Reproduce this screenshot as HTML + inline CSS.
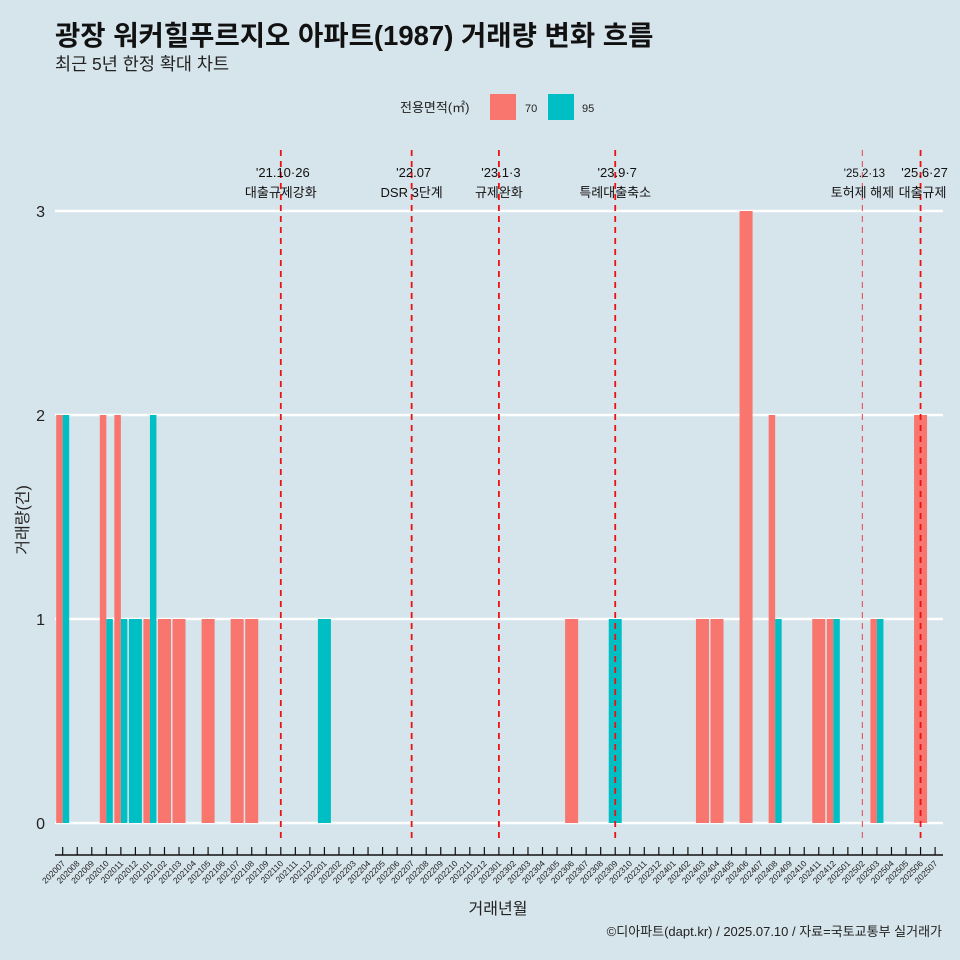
<!DOCTYPE html>
<html><head><meta charset="utf-8"><style>
body{margin:0;background:#d6e4eb;}
svg{display:block;font-family:"Liberation Sans","Noto Sans CJK KR",sans-serif;}
</style></head><body>
<svg id="c" width="960" height="960" xmlns="http://www.w3.org/2000/svg">
<rect width="960" height="960" fill="#d6e4eb"/>
<text x="55" y="45" font-size="27.5" font-weight="bold" fill="#111">광장 워커힐푸르지오 아파트(1987) 거래량 변화 흐름</text>
<text x="55" y="70" font-size="17.5" fill="#222">최근 5년 한정 확대 차트</text>
<g>
<text x="400" y="112" font-size="13" fill="#222">전용면적(㎡)</text>
<rect x="490" y="94" width="26" height="26" fill="#f8766d"/>
<text x="525" y="112" font-size="11" fill="#222">70</text>
<rect x="548" y="94" width="26" height="26" fill="#00bfc4"/>
<text x="582" y="112" font-size="11" fill="#222">95</text>
</g>
<g id="grid"></g><g id="bars"></g><g id="events"></g><g id="xaxis"></g>
<text x="28" y="520" font-size="16" fill="#222" text-anchor="middle" transform="rotate(-90 28 520)">거래량(건)</text>
<text x="498" y="914" font-size="16" fill="#222" text-anchor="middle">거래년월</text>
<text x="942" y="936" font-size="13" fill="#222" text-anchor="end">©디아파트(dapt.kr) / 2025.07.10 / 자료=국토교통부 실거래가</text>
</svg>
<script>
const months=[];for(let y=2020;y<=2025;y++)for(let m=1;m<=12;m++){const k=y*100+m;if(k>=202007&&k<=202507)months.push(String(k));}
const series70={"202007":2,"202010":2,"202011":2,"202101":1,"202102":1,"202103":1,"202105":1,"202107":1,"202108":1,"202306":1,"202403":1,"202404":1,"202406":3,"202408":2,"202411":1,"202412":1,"202503":1,"202506":2};
const series95={"202007":2,"202010":1,"202011":1,"202012":1,"202101":2,"202201":1,"202309":1,"202408":1,"202412":1,"202503":1};
const yTicks=[0,1,2,3];
const eventMonths=["202110","202207","202301","202309","202502","202506"];
const eventDates=["'21.10·26","'22.07","'23.1·3","'23.9·7","'25.2·13","'25.6·27"];
const eventLabels=["대출규제강화","DSR 3단계","규제완화","특례대출축소","토허제 해제","대출규제"];
const NS="http://www.w3.org/2000/svg";
const X0=62.7,DX=14.54,Y0=823,DY=204;
const xs=i=>X0+i*DX, ys=v=>Y0-v*DY;
function mk(t,a,p){const e=document.createElementNS(NS,t);for(const k in a)e.setAttribute(k,a[k]);p.appendChild(e);return e;}
const grid=document.getElementById('grid'),bars=document.getElementById('bars'),ev=document.getElementById('events'),xa=document.getElementById('xaxis');
yTicks.forEach(v=>{
 const l=mk('line',{x1:55,x2:943,y1:ys(v),y2:ys(v),stroke:'#fff','stroke-width':2.5},grid);
 
 
 const t=mk('text',{x:45,y:ys(v)+6,'font-size':16,'text-anchor':'end',fill:'#222'},grid);t.textContent=v;
 
 
});
const W=13;
months.forEach((m,i)=>{
 const a=series70[m]||0,b=series95[m]||0,cx=xs(i);
 if(a&&b){
  const r1=mk('rect',{x:cx-W/2,y:ys(a),width:W/2,height:a*DY,fill:'#f8766d'},bars);
  
  
  const r2=mk('rect',{x:cx,y:ys(b),width:W/2,height:b*DY,fill:'#00bfc4'},bars);
  
  
 }else if(a||b){
  const v=a||b;
  const r=mk('rect',{x:cx-W/2,y:ys(v),width:W,height:v*DY,fill:a?'#f8766d':'#00bfc4'},bars);
  
  
 }
});
eventMonths.forEach((m,k)=>{
 const i=months.indexOf(m),x=xs(i),light=m==="202502";
 const l=mk('line',{x1:x,x2:x,y1:150,y2:843,stroke:light?'#e06070':'#ee1111','stroke-width':light?1.2:1.8,'stroke-dasharray':'6 5'},ev);
 
 
 const small=light?11.5:13;
 const off=m==="202506"?2:0;
 const t1=mk('text',{x:x+off+2,y:177,'font-size':small,'text-anchor':'middle',fill:'#111'},ev);t1.textContent=eventDates[k];
 
 
 const t2=mk('text',{x:x+off,y:197,'font-size':13,'text-anchor':'middle',fill:'#111'},ev);t2.textContent=eventLabels[k];
 
 
});
const ax=mk('line',{x1:55,x2:943,y1:855,y2:855,stroke:'#111','stroke-width':1.5},xa);


months.forEach((m,i)=>{
 const x=xs(i);
 mk('line',{x1:x,x2:x,y1:847,y2:855,stroke:'#111','stroke-width':1.2},xa);
 const t=mk('text',{x:x+3,y:864,'font-size':8.5,'text-anchor':'end',fill:'#222',transform:`rotate(-45 ${x+3} 864)`},xa);t.textContent=m;
 
 
});
</script>
</body></html>
